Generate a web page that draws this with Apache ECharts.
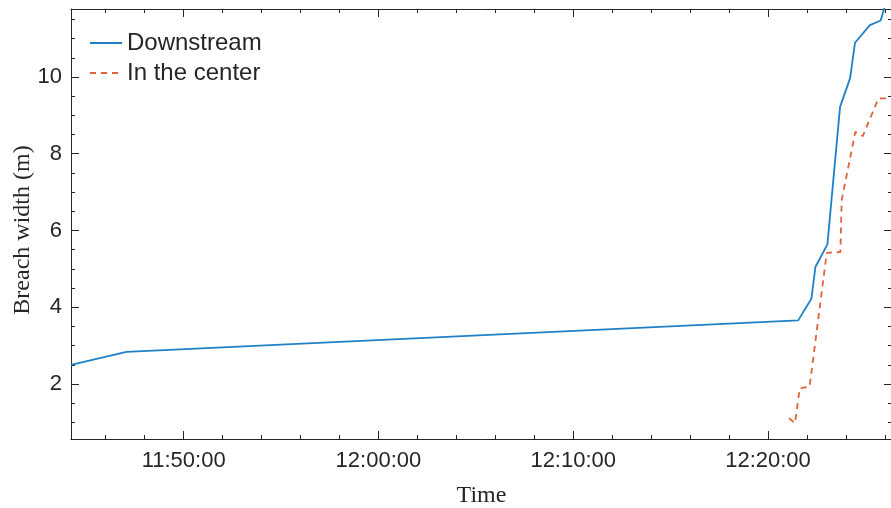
<!DOCTYPE html>
<html><head><meta charset="utf-8">
<script src="https://cdn.jsdelivr.net/npm/echarts@6/dist/echarts.min.js"></script>
<style>html,body{margin:0;padding:0;background:#fff}#c{width:891px;height:508px}</style>
</head><body><div id="c"></div>
<script>
// ---- data ----
const downTimes   = ['11:44:13','11:47:04','12:21:33','12:22:14','12:22:26','12:23:03','12:23:42','12:24:13','12:24:28','12:25:14','12:25:47','12:26:04'];
const downValues  = [2.50, 2.84, 3.66, 4.23, 5.05, 5.64, 9.22, 9.97, 10.89, 11.35, 11.47, 11.95];
const centerTimes  = ['12:21:05','12:21:23','12:21:38','12:22:08','12:23:01','12:23:43','12:23:47','12:24:29','12:24:52','12:25:40','12:26:22'];
const centerValues = [1.11, 0.98, 1.89, 1.93, 5.42, 5.44, 6.79, 8.57, 8.46, 9.44, 9.44];
const seriesNames = ['Downstream', 'In the center'];
const xLabelTimes = ['11:50:00','12:00:00','12:10:00','12:20:00'];
const xMinorTimes = ['11:46:00','11:48:00','11:52:00','11:54:00','11:56:00','11:58:00','12:02:00','12:04:00','12:06:00','12:08:00','12:12:00','12:14:00','12:16:00','12:18:00','12:22:00','12:24:00','12:26:00'];
const yMajorTicks = [2, 4, 6, 8, 10];
const yMinorTicks = [1, 1.5, 2.5, 3, 3.5, 4.5, 5, 5.5, 6.5, 7, 7.5, 8.5, 9, 9.5, 10.5, 11, 11.5];
const xRange = ['11:44:13', '12:26:22'];
const yRange = [0.57, 11.77];

// ---- helpers ----
const toSec = s => { const p = s.split(':').map(Number); return p[0]*3600 + p[1]*60 + p[2]; };
const pad = n => String(n).padStart(2, '0');
const fmt = v => { v = Math.round(v); return pad(Math.floor(v/3600)) + ':' + pad(Math.floor(v%3600/60)) + ':' + pad(v%60); };

const AX = '#262626';
const sans = "'Liberation Sans', Arial, sans-serif";
const serif = "'Liberation Serif', 'Times New Roman', serif";
const xMin = toSec(xRange[0]), xMax = toSec(xRange[1]);
const gridRect = { left: 71, top: 9, right: -1, bottom: 69, outerBoundsMode: 'none', containLabel: false };

function xAx(gridIndex, position, ticks, len, showLine, labels) {
  return {
    type: 'value', gridIndex, position, min: xMin, max: xMax,
    axisLine: { show: showLine, lineStyle: { color: AX, width: 1 } },
    axisTick: { show: true, inside: true, length: len, customValues: ticks, lineStyle: { color: AX, width: 1 } },
    axisLabel: labels ? { show: true, customValues: ticks, formatter: fmt, fontSize: 22, fontFamily: sans, color: AX, margin: 11 } : { show: false },
    splitLine: { show: false }
  };
}
function yAx(gridIndex, position, ticks, len, showLine, labels) {
  return {
    type: 'value', gridIndex, position, min: yRange[0], max: yRange[1],
    axisLine: { show: showLine, lineStyle: { color: AX, width: 1 } },
    axisTick: { show: true, inside: true, length: len, customValues: ticks, lineStyle: { color: AX, width: 1 } },
    axisLabel: labels ? { show: true, customValues: ticks, fontSize: 22, fontFamily: sans, color: AX, margin: 9 } : { show: false },
    splitLine: { show: false }
  };
}

const xMajor = xLabelTimes.map(toSec);
const xMinor = xMinorTimes.map(toSec);

const xAxes = [
  Object.assign(xAx(0, 'bottom', xMajor, 8, true, true), {
    name: 'Time', nameLocation: 'middle', nameGap: 45, nameMoveOverlap: false,
    nameTextStyle: { fontSize: 24, fontFamily: serif, color: AX }
  }),
  xAx(0, 'top', xMajor, 8, true, false),
  xAx(1, 'bottom', xMinor, 4, false, false),
  xAx(1, 'top', xMinor, 4, false, false)
];
const yAxes = [
  Object.assign(yAx(0, 'left', yMajorTicks, 8, true, true), {
    name: 'Breach width (m)', nameLocation: 'middle', nameGap: 36, nameRotate: 90, nameMoveOverlap: false,
    nameTextStyle: { fontSize: 24, fontFamily: serif, color: AX, padding: [0, 12, 0, 0] }
  }),
  yAx(0, 'right', yMajorTicks, 8, true, false),
  yAx(1, 'left', yMinorTicks, 4, false, false),
  yAx(1, 'right', yMinorTicks, 4, false, false)
];

const option = {
  animation: false,
  backgroundColor: '#fff',
  grid: [Object.assign({}, gridRect), Object.assign({}, gridRect)],
  xAxis: xAxes,
  yAxis: yAxes,
  legend: {
    orient: 'vertical', left: 84, top: 26, padding: 5, itemWidth: 32, itemHeight: 14, itemGap: 6,
    itemStyle: { opacity: 0, borderWidth: 0 },
    textStyle: { fontSize: 24, fontFamily: sans, color: AX },
    data: seriesNames
  },
  series: [
    {
      name: seriesNames[0], type: 'line', xAxisIndex: 0, yAxisIndex: 0, symbol: 'none',
      lineStyle: { color: '#1f80c8', width: 1.8 }, itemStyle: { color: '#1f80c8' },
      data: downTimes.map((t, i) => [toSec(t), downValues[i]])
    },
    {
      name: seriesNames[1], type: 'line', xAxisIndex: 0, yAxisIndex: 0, symbol: 'none',
      lineStyle: { color: '#e0623a', width: 1.8, type: [6, 5] }, itemStyle: { color: '#e0623a' },
      data: centerTimes.map((t, i) => [toSec(t), centerValues[i]])
    }
  ]
};
const chart = echarts.init(document.getElementById('c'), null, { renderer: 'canvas' });
chart.setOption(option);
</script>
</body></html>
